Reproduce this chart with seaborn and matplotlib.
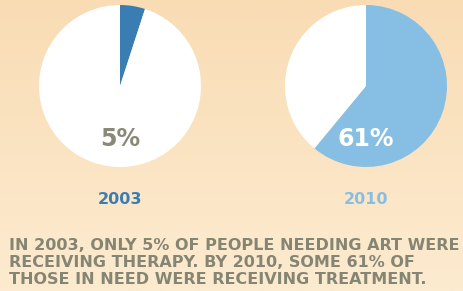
import numpy as np
import matplotlib
matplotlib.use("Agg")
import matplotlib.pyplot as plt
import seaborn as sns
from matplotlib.colors import LinearSegmentedColormap

years = ["2003", "2010"]
shares = [5, 61]
pie_colors = ["#3a7db2", "#87bfe4"]
label_colors = ["#8a8977", "#ffffff"]
caption = ["IN 2003, ONLY 5% OF PEOPLE NEEDING ART WERE",
           "RECEIVING THERAPY. BY 2010, SOME 61% OF",
           "THOSE IN NEED WERE RECEIVING TREATMENT."]

sns.set_theme(style="white")
plt.rcParams['font.family'] = ['DejaVu Sans']

W, H = 464, 291
fig = plt.figure(figsize=(W / 100, H / 100), dpi=100)

# background gradient
bg = fig.add_axes([0, 0, 1, 1])
grad = np.linspace(0, 1, 100)[:, None]
cmap = LinearSegmentedColormap.from_list("bg", ["#f9dcb4", "#fdebd0"])
bg.imshow(grad, aspect="auto", cmap=cmap, extent=[0, 1, 0, 1], origin="upper")
bg.set_axis_off()

centers = [(120, 86), (366, 86)]
r = 81
for i, (cx, cy) in enumerate(centers):
    ax = fig.add_axes([(cx - r) / W, 1 - (cy + r) / H, 2 * r / W, 2 * r / H])
    ax.pie([shares[i], 100 - shares[i]], colors=[pie_colors[i], "white"],
           startangle=90, counterclock=False,
           wedgeprops=dict(linewidth=0))
    ax.set_aspect("equal")
    ax.set_xlim(-1, 1)
    ax.set_ylim(-1, 1)
    ax.set_axis_off()
    fig.text(cx / W, 1 - 139 / H, f"{shares[i]}%", ha="center", va="center",
             fontsize=17, fontweight="bold", color=label_colors[i])
    fig.text(cx / W, 1 - 199 / H, years[i], ha="center", va="center",
             fontsize=11.5, fontweight="bold", color=pie_colors[i])

for j, line in enumerate(caption):
    fig.text(9 / W, 1 - (245 + j * 17.5) / H, line, ha="left", va="center",
             fontsize=11.5, fontweight="bold", color="#858574")

fig.savefig("out.png", dpi=100, facecolor=fig.get_facecolor())
